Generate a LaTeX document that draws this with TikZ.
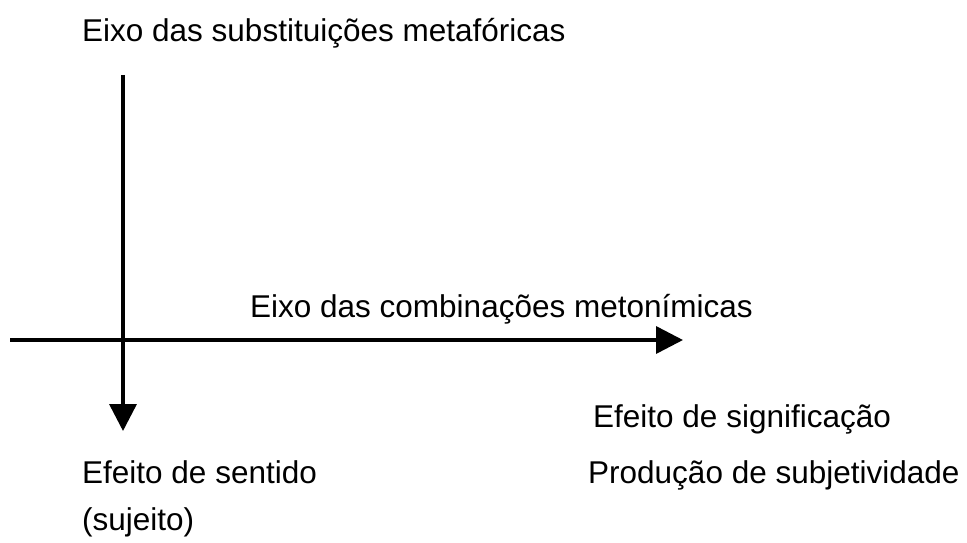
\documentclass[tikz,border=0pt]{standalone}
\usepackage{fontspec}
\setmainfont{Liberation Sans}
\usetikzlibrary{arrows.meta}
\begin{document}
\begin{tikzpicture}[x=1pt,y=-1pt,
  lbl/.style={anchor=base west,inner sep=0pt,font=\fontsize{31.5}{38}\selectfont},
  axis/.style={line width=3.5pt,-{Triangle[width=27pt,length=27pt]}}]
\useasboundingbox (0,0) rectangle (967,543);
\coordinate (vtop) at (123,75);
\coordinate (vend) at (123,431);
\coordinate (hstart) at (10,340);
\coordinate (hend) at (683,340);
\draw[axis] (vtop) -- (vend);
\draw[axis] (hstart) -- (hend);
\node[lbl] (t1) at (82,42) {Eixo das substituições metafóricas};
\node[lbl] (t2) at (250,317) {Eixo das combinações metonímicas};
\node[lbl] (t3) at (593,427) {Efeito de significação};
\node[lbl] (t4) at (82,483) {Efeito de sentido};
\node[lbl] (t5) at (588,483) {Produção de subjetividade};
\node[lbl] (t6) at (82,530) {(sujeito)};
\end{tikzpicture}
\end{document}
